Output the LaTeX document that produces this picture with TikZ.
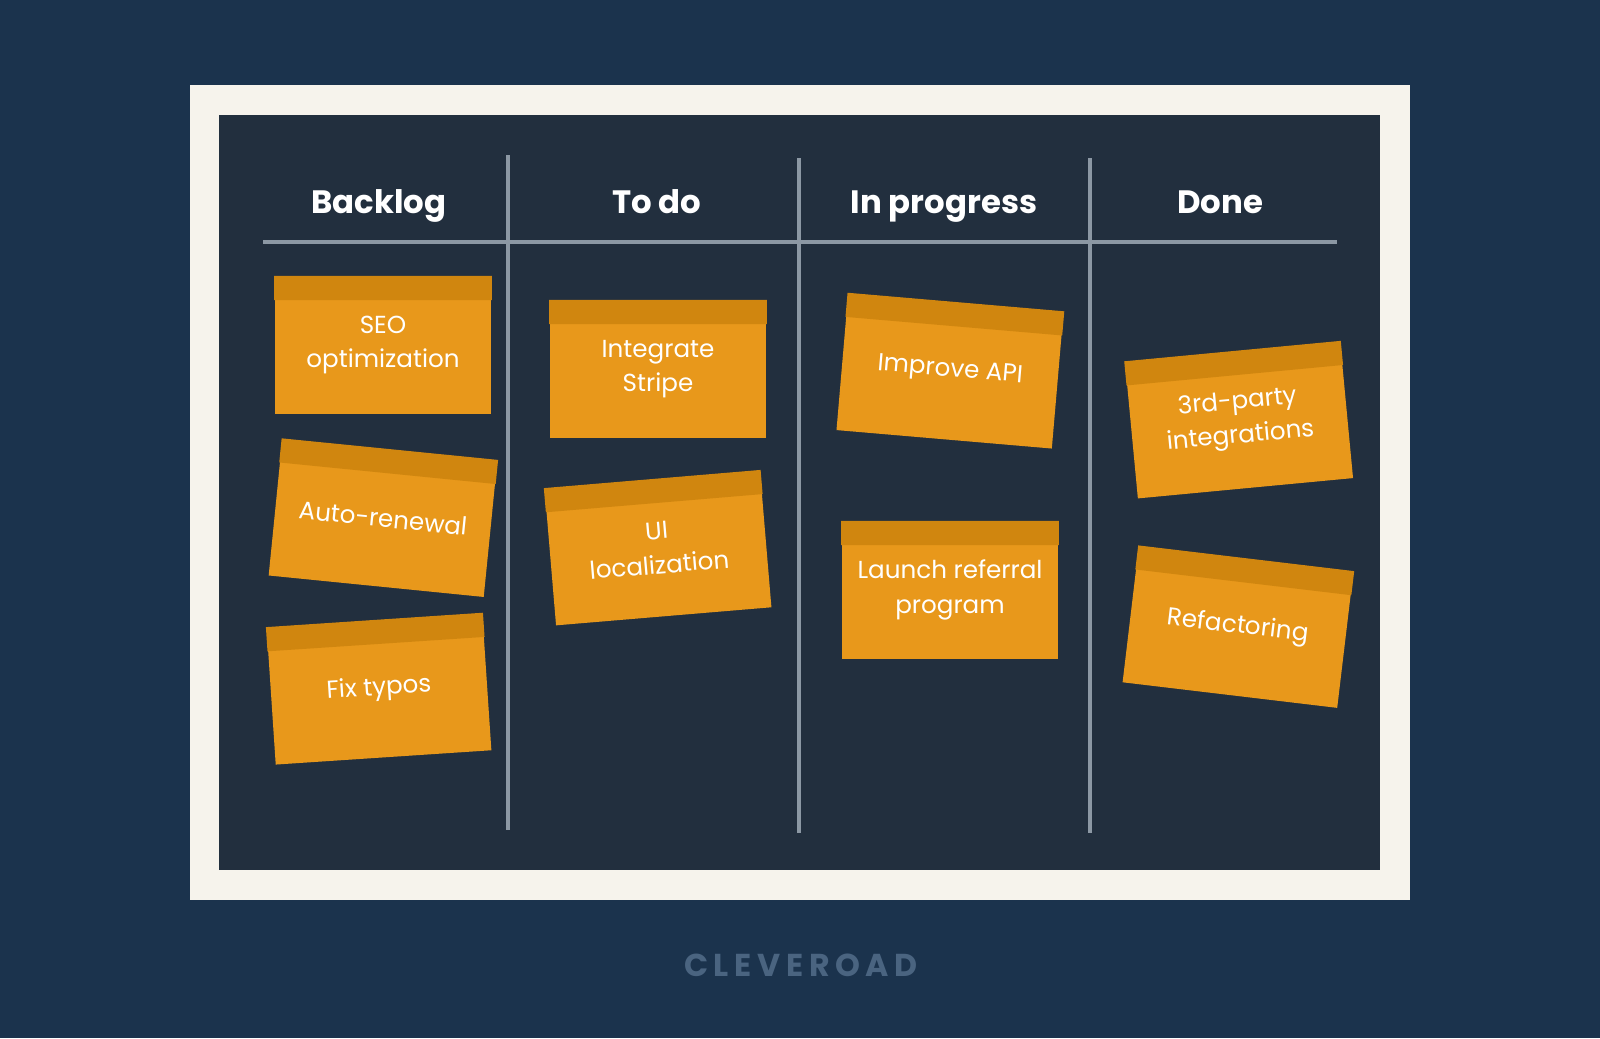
\documentclass[tikz,border=0pt]{standalone}
\usepackage{fontspec}
\setmainfont{Poppins}
\usepackage{xcolor}
\usepackage{tikz}
\usetikzlibrary{calc, positioning}

\definecolor{navybg}{HTML}{1B334D}
\definecolor{boardbg}{HTML}{222F3E}
\definecolor{framebg}{HTML}{F6F3EC}
\definecolor{notefill}{HTML}{E8981B}
\definecolor{notestrip}{HTML}{D0860F}
\definecolor{rulegray}{HTML}{8C98A4}
\definecolor{brandgray}{HTML}{4A6480}

\begin{document}
\begin{tikzpicture}[
    x=0.01cm, y=-0.01cm,
    heading/.style={text=white, anchor=base, font=\fontsize{9.2}{11}\selectfont\bfseries},
    note/.style={rectangle, fill=notefill, minimum width=2.16cm, minimum height=1.37cm,
                 inner sep=0pt, text=white, align=center,
                 font=\fontsize{7}{9.8}\selectfont},
    strip/.style={fill=notestrip},
    colrule/.style={rulegray, line width=1pt}
  ]
    % Background and board
    \fill[navybg] (0,0) rectangle (1600,1038);
    \useasboundingbox (0,0) rectangle (1600,1038);
    \fill[framebg] (190,85) rectangle (1410,900);
    \fill[boardbg] (219,115) rectangle (1380,870);

    % Column rules
    \draw[colrule] (263,242) -- (1337,242);
    \draw[colrule] (508,155) -- (508,830);
    \draw[colrule] (799,158) -- (799,833);
    \draw[colrule] (1090,158) -- (1090,833);

    % Column headings
    \node[heading] (hback) at (379,213) {Backlog};
    \node[heading] (htodo) at (657,213) {To do};
    \node[heading] (hprog) at (944,213) {In progress};
    \node[heading] (hdone) at (1220,213) {Done};

    % Sticky notes
    \node[note] (seo)    at (383,345)              {SEO\\optimization};
    \node[note, rotate=-5.7] (renew)  at (383,518) {Auto-renewal};
    \node[note, rotate=3.8]  (typos)  at (379,689) {Fix typos};
    \node[note] (stripe) at (658,369)              {Integrate\\Stripe};
    \node[note, rotate=4.8]  (local)  at (658,548) {UI\\localization};
    \node[note, rotate=-4.9] (api)    at (950,371) {Improve API};
    \node[note] (launch) at (950,590)              {Launch referral\\program};
    \node[note, rotate=5.4]  (third)  at (1239,420) {3rd-party\\integrations};
    \node[note, rotate=-6.8] (refac)  at (1238,627) {Refactoring};

    % Note strips
    \foreach \n in {seo,renew,typos,stripe,local,api,launch,third,refac}
      \fill[strip] (\n.north west) -- (\n.north east)
        -- ($(\n.north east)!0.175!(\n.south east)$)
        -- ($(\n.north west)!0.175!(\n.south west)$) -- cycle;

    % Brand
    \node[text=brandgray, font=\fontsize{9}{11}\selectfont\bfseries\addfontfeature{LetterSpace=18}]
      (brand) at (801,965) {CLEVEROAD};
  \end{tikzpicture}
\end{document}
